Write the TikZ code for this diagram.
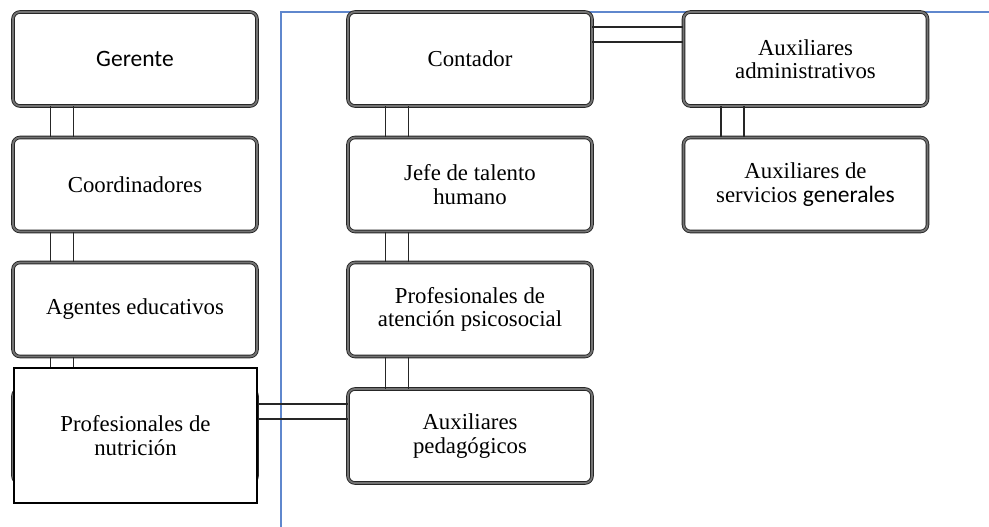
\documentclass[tikz,border=0pt]{standalone}
\usepackage{fontspec}
\setmainfont{Liberation Serif}
\newfontfamily\carl{Carlito}
\usetikzlibrary{calc}
\definecolor{bluel}{RGB}{95,135,205}
\begin{document}
\begin{tikzpicture}[x=1pt,y=-1pt,
  orgbox/.style={draw=black!85, double=black!55, double distance=1.8pt, line width=0.9pt,
    rounded corners=7pt, fill=white, minimum width=244, minimum height=94,
    align=center, font=\fontsize{22.8}{23.5}\selectfont, inner sep=0pt},
  plainbox/.style={draw=black, line width=1.2pt, fill=white, minimum width=243,
    minimum height=135, align=center, font=\fontsize{22.8}{24.5}\selectfont, inner sep=0pt},
  conn/.style={draw=black!85, line width=1.2pt},
  bline/.style={draw=bluel, line width=1.3pt}]
\useasboundingbox (0,0) rectangle (989,527);
% blue frame line
\draw[bline] (281,527) -- (281,12) -- (989,12);
% boxes
\node[orgbox] (ger) at (135,59) {{\carl\fontsize{23.5}{24}\selectfont Gerente}};
\node[orgbox] (coo) at (135,184.5) {Coordinadores};
\node[orgbox] (age) at (135,309.5) {Agentes educativos};
\node[orgbox] (nuth) at (135,436) {};
\node[orgbox] (con) at (470,59) {Contador};
\node[orgbox] (jef) at (470,184.5) {Jefe de talento\\humano};
\node[orgbox] (psi) at (470,309.5) {Profesionales de\\atención psicosocial};
\node[orgbox] (ped) at (470,436) {Auxiliares\\pedagógicos};
\node[orgbox] (adm) at (805.5,59) {Auxiliares\\administrativos};
\node[orgbox] (ser) at (805.5,184.5) {Auxiliares de\\servicios {\carl\fontsize{23.5}{24}\selectfont generales}};
% connectors
\foreach \a/\b in {ger/coo, coo/age, age/nuth, con/jef, jef/psi, psi/ped, adm/ser}{
  \draw[conn] ([xshift=38pt]\a.south west) -- ([xshift=38pt]\b.north west);
  \draw[conn] ([xshift=61pt]\a.south west) -- ([xshift=61pt]\b.north west);
}
\foreach \a/\b in {con/adm, nuth/ped}{
  \draw[conn] ([yshift=32pt]\a.east) -- ([yshift=32pt]\b.west);
  \draw[conn] ([yshift=17pt]\a.east) -- ([yshift=17pt]\b.west);
}
% overlapping plain box
\node[plainbox] (nut) at (135.5,435.5) {Profesionales de\\nutrición};
\end{tikzpicture}
\end{document}
